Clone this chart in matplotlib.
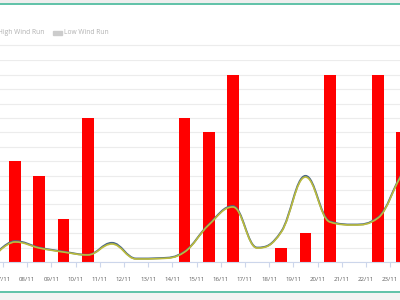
import numpy as np
import matplotlib
matplotlib.use("Agg")
import matplotlib.pyplot as plt
from matplotlib.path import Path
from matplotlib.patches import PathPatch, Rectangle

plt.rcParams['font.family'] = ['Open Sans', 'DejaVu Sans']

# dates shown on the x axis
dates = ['07/11', '08/11', '09/11', '10/11', '11/11', '12/11', '13/11', '14/11', '15/11',
         '16/11', '17/11', '18/11', '19/11', '20/11', '21/11', '22/11', '23/11']

# daily bars (drawn half a day after each tick)
bar_values = [7, 6, 3, 10, 0, 0, 0, 10, 9, 13, 0, 1, 2, 13, 0, 13, 9]

# smooth lines, one point per day, starting half a day before 07/11
line_yellow = [0.14, 1.39, 0.97, 0.69, 0.49, 1.25, 0.21, 0.24, 0.69, 2.57, 3.82,
               0.97, 2.08, 5.9, 2.78, 2.57, 3.06, 6.1, 8.0]
line_dark = [0.18, 1.45, 1.0, 0.72, 0.5, 1.33, 0.24, 0.27, 0.72, 2.6, 3.88,
             1.0, 2.12, 5.98, 2.82, 2.6, 3.1, 6.15, 8.05]


def spline_path(xs, ys, smoothing=1.5):
    # highcharts style spline: bezier control points from neighbours
    n = len(xs)
    denom = smoothing + 1
    left = [None] * n
    right = [None] * n
    for i in range(1, n - 1):
        px, py = xs[i], ys[i]
        lx, ly = xs[i - 1], ys[i - 1]
        nx, ny = xs[i + 1], ys[i + 1]
        lcx = (smoothing * px + lx) / denom
        lcy = (smoothing * py + ly) / denom
        rcx = (smoothing * px + nx) / denom
        rcy = (smoothing * py + ny) / denom
        corr = (rcy - lcy) * (rcx - px) / (rcx - lcx) + py - rcy
        lcy += corr
        rcy += corr
        if lcy > max(ly, py):
            lcy = max(ly, py)
            rcy = 2 * py - lcy
        elif lcy < min(ly, py):
            lcy = min(ly, py)
            rcy = 2 * py - lcy
        if rcy > max(py, ny):
            rcy = max(py, ny)
            lcy = 2 * py - rcy
        elif rcy < min(py, ny):
            rcy = min(py, ny)
            lcy = 2 * py - rcy
        left[i] = (lcx, lcy)
        right[i] = (rcx, rcy)
    verts = [(xs[0], ys[0])]
    codes = [Path.MOVETO]
    for i in range(1, n):
        c1 = right[i - 1] if right[i - 1] else (xs[i - 1], ys[i - 1])
        c2 = left[i] if left[i] else (xs[i], ys[i])
        verts += [c1, c2, (xs[i], ys[i])]
        codes += [Path.CURVE4] * 3
    return Path(verts, codes)


fig = plt.figure(figsize=(4, 3), dpi=100)
fig.patch.set_facecolor('white')

# page frame bits (top / bottom bands)
fig.patches.append(Rectangle((0, 1 - 3 / 300), 1, 3 / 300, transform=fig.transFigure,
                             color='#eeeeee', zorder=0))
fig.lines.append(plt.Line2D([0, 1], [1 - 4 / 300, 1 - 4 / 300], transform=fig.transFigure,
                            color='#5fc2a8', lw=1.4))
fig.lines.append(plt.Line2D([0, 1], [1 - 45.5 / 300, 1 - 45.5 / 300], transform=fig.transFigure,
                            color='#ececec', lw=0.8))
fig.patches.append(Rectangle((0, 0), 1, 8 / 300, transform=fig.transFigure,
                             color='#f3f3f3', zorder=0))
fig.lines.append(plt.Line2D([0, 1], [8.5 / 300, 8.5 / 300], transform=fig.transFigure,
                            color='#5fc2a8', lw=1.4))

# legend (both series hidden -> grey)
fig.text(44 / 400, 1 - 33 / 300, 'High Wind Run', ha='right', va='center',
         fontsize=4.8, color='#b0b0b0')
fig.patches.append(Rectangle((53 / 400, 1 - 35 / 300), 9 / 400, 4 / 300,
                             transform=fig.transFigure, color='#cccccc'))
fig.text(64 / 400, 1 - 33 / 300, 'Low Wind Run', ha='left', va='center',
         fontsize=4.8, color='#b0b0b0')

ax = fig.add_axes([0, 38 / 300, 1, 201.6 / 300])
ax.set_facecolor('none')

ticks = np.arange(len(dates))
bar_x = ticks + 0.5
ax.bar(bar_x, bar_values, width=0.48, color='#ff0000', zorder=2)

line_x = np.arange(len(line_yellow)) - 0.5
ax.add_patch(PathPatch(spline_path(line_x, line_dark), facecolor='none',
                       edgecolor='#4a6788', lw=1.4, zorder=3))
ax.add_patch(PathPatch(spline_path(line_x, line_yellow), facecolor='none',
                       edgecolor='#bcbc3c', lw=1.2, zorder=4))

ax.set_xlim(-0.124, 16.405)
ax.set_ylim(0, 14)
ax.set_yticks(np.arange(0, 15))
ax.yaxis.grid(True, color='#ececec', lw=0.8)
ax.set_axisbelow(True)
ax.tick_params(axis='y', left=False, labelleft=False)

ax.set_xticks(ticks)
ax.set_xticklabels(dates, fontsize=4.4, color='#606060')
ax.tick_params(axis='x', length=3.6, color='#ccd6eb', width=0.8, pad=7.5)

for side in ['top', 'left', 'right']:
    ax.spines[side].set_visible(False)
ax.spines['bottom'].set_color('#ccd6eb')
ax.spines['bottom'].set_linewidth(0.8)

fig.savefig('out.png', dpi=100)
